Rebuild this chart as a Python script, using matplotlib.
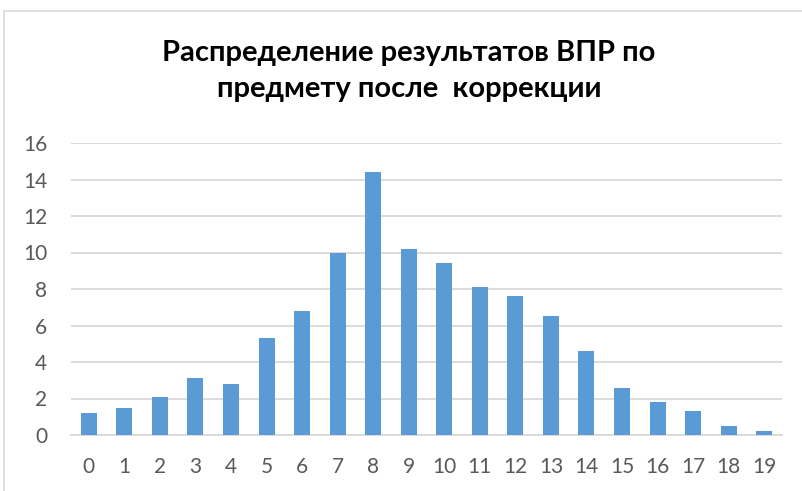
import matplotlib
matplotlib.use("Agg")
import matplotlib.pyplot as plt
from matplotlib.patches import Rectangle

categories = [str(i) for i in range(20)]
values = [1.2, 1.5, 2.1, 3.1, 2.8, 5.3, 6.8, 10.0, 14.4, 10.2,
          9.4, 8.1, 7.6, 6.5, 4.6, 2.6, 1.8, 1.3, 0.5, 0.2]
yticks = [0, 2, 4, 6, 8, 10, 12, 14, 16]
title = "Распределение результатов ВПР по\nпредмету после  коррекции"

plt.rcParams['font.family'] = ['Lato', 'DejaVu Sans']

W, H = 803, 491
fig = plt.figure(figsize=(W / 100, H / 100), dpi=100)
fig.patch.set_facecolor("white")

# chart border
fig.patches.append(Rectangle((4 / W, -0.05), 1.2, 1 - 11 / H + 0.05,
                             transform=fig.transFigure, fill=False,
                             edgecolor="#D9D9D9", linewidth=1.2))

ax = fig.add_axes([71 / W, 1 - 435 / H, (782 - 71) / W, (435 - 143) / H])
x = list(range(len(categories)))
ax.bar(x, values, width=0.45, color="#5B9BD5", zorder=3)
ax.set_xlim(-0.5, len(categories) - 0.5)
ax.set_ylim(0, 16)
ax.set_yticks(yticks)
ax.set_xticks(x)
ax.set_xticklabels(categories)
ax.yaxis.grid(True, color="#D9D9D9", linewidth=1.3, zorder=0)
ax.set_axisbelow(True)
for s in ["top", "right", "left"]:
    ax.spines[s].set_visible(False)
ax.spines["bottom"].set_color("#D9D9D9")
ax.spines["bottom"].set_linewidth(1.3)
ax.tick_params(axis="both", length=0, labelsize=15, labelcolor="#595959")
ax.tick_params(axis="y", pad=17)
ax.tick_params(axis="x", pad=16)

fig.text(409 / W, 1 - 71 / H, title, ha="center", va="center",
         fontsize=21, fontweight="bold", color="black", linespacing=1.45)

fig.savefig("out.png", dpi=100, facecolor="white")
